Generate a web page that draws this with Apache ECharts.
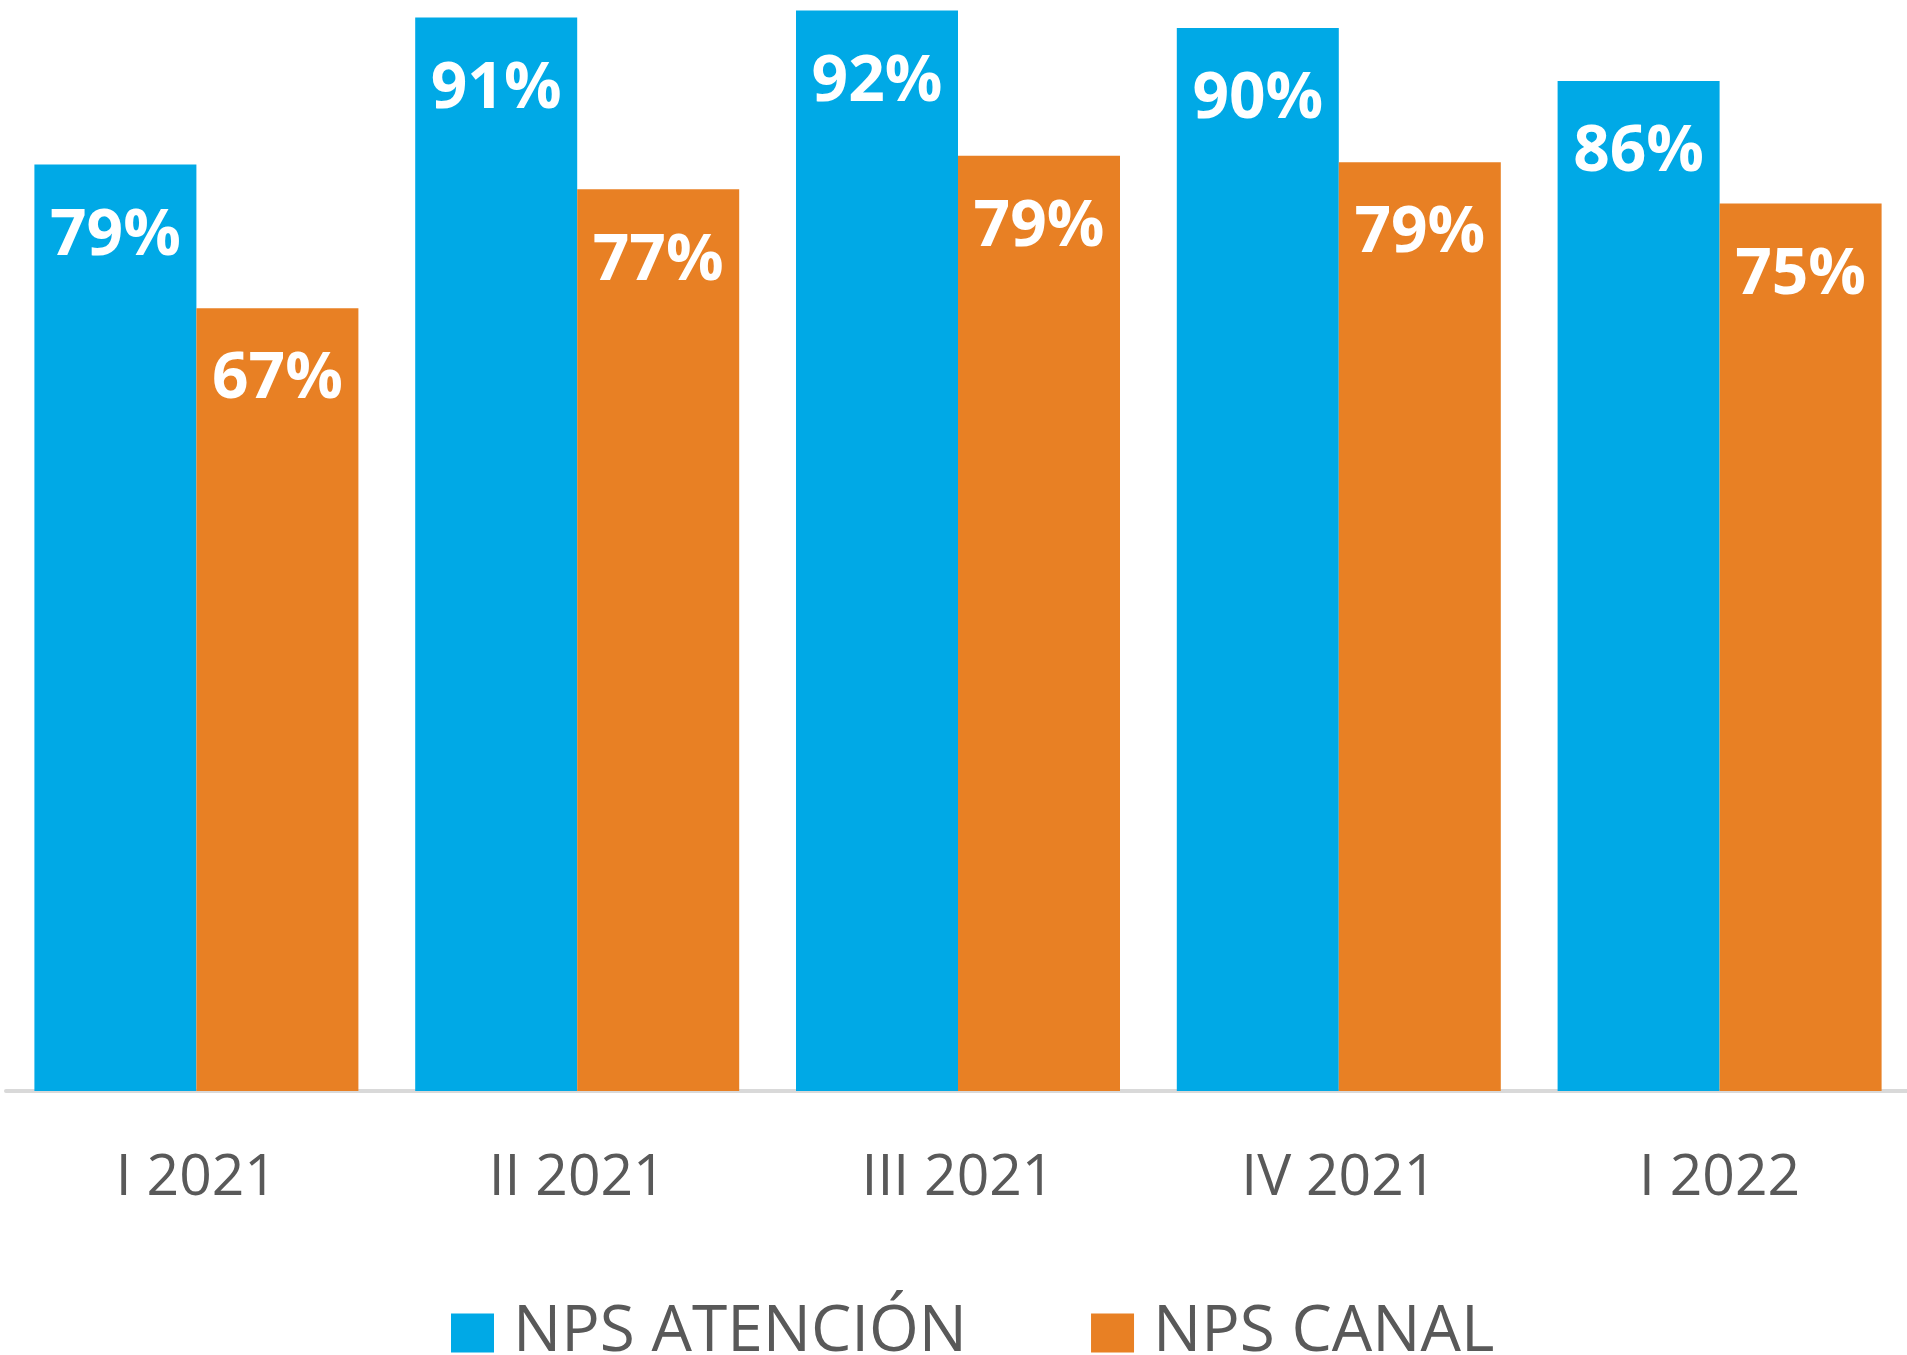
<!DOCTYPE html>
<html>
<head>
<meta charset="utf-8">
<script src="https://cdn.jsdelivr.net/npm/echarts@6/dist/echarts.min.js"></script>
<style>
  html, body { margin: 0; padding: 0; background: #fff; }
  #chart { width: 1907px; height: 1355px; }
</style>
</head>
<body>
<div id="chart"></div>
<script>
var categories = ['I 2021', 'II 2021', 'III 2021', 'IV 2021', 'I 2022']
var seriesNames = ['NPS ATENCIÓN', 'NPS CANAL']
var npsAtencion = [78.7, 91.2, 91.8, 90.3, 85.8]
var npsCanal = [66.5, 76.6, 79.45, 78.9, 75.4]

var chart = echarts.init(document.getElementById('chart'))

var labelStyle = {
  show: true,
  position: 'insideTop',
  distance: 40,
  color: '#ffffff',
  fontFamily: 'Open Sans',
  fontWeight: 'bold',
  fontSize: 64,
  formatter: function (p) {
    return Math.round(p.value) + '%'
  }
}

chart.setOption({
  animation: false,
  grid: {
    left: 6,
    right: -3,
    top: 1,
    bottom: 264,
    outerBoundsMode: 'none'
  },
  legend: {
    data: seriesNames,
    left: 446,
    top: 1296,
    itemWidth: 43,
    itemHeight: 39,
    itemGap: 124,
    icon: 'rect',
    textStyle: {
      color: '#595959',
      fontFamily: 'Open Sans',
      fontSize: 64,
      padding: [0, 0, 0, 14]
    }
  },
  xAxis: {
    type: 'category',
    data: categories,
    offset: 2,
    axisTick: { show: false },
    axisLine: {
      show: true,
      lineStyle: { color: '#d9d9d9', width: 4 }
    },
    axisLabel: {
      color: '#595959',
      fontFamily: 'Open Sans',
      fontSize: 57,
      margin: 57
    }
  },
  yAxis: {
    type: 'value',
    min: 0,
    max: 92.6,
    show: false,
    splitLine: { show: false }
  },
  series: [
    {
      name: seriesNames[0],
      type: 'bar',
      data: npsAtencion,
      barWidth: 162,
      barGap: '0%',
      itemStyle: { color: '#00A9E6' },
      label: labelStyle
    },
    {
      name: seriesNames[1],
      type: 'bar',
      data: npsCanal,
      barWidth: 162,
      barGap: '0%',
      itemStyle: { color: '#E88024' },
      label: labelStyle
    }
  ]
})
</script>
</body>
</html>
